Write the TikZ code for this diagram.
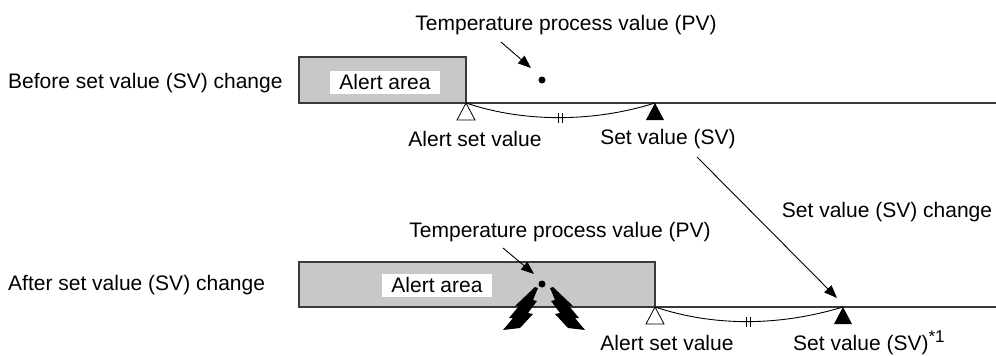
\documentclass[tikz,border=0pt]{standalone}
\usepackage{fontspec}
\setmainfont{Liberation Sans}
\usetikzlibrary{arrows.meta}
\definecolor{areagray}{HTML}{C8C8C8}
\definecolor{edgegray}{HTML}{3A3A3A}
\begin{document}
\begin{tikzpicture}[x=1pt,y=-1pt,
  lbl/.style={inner sep=0pt, font=\fontsize{21}{25}\selectfont},
  area/.style={fill=areagray, draw=edgegray, line width=1.2pt},
  whitebox/.style={fill=white, inner sep=0pt, minimum width=110pt, minimum height=23pt, font=\fontsize{21}{25}\selectfont},
  baseline/.style={draw=edgegray, line width=1.2pt},
  ptr/.style={draw=black, line width=0.9pt, -{Triangle[length=13pt,width=10pt]}},
  opentri/.style={draw=black, fill=white, line width=0.8pt},
  filltri/.style={fill=black},
  dist/.style={draw=black, line width=0.9pt},
  pv/.style={circle, fill=black, inner sep=0pt, minimum size=7pt},
  bolt/.style={fill=black}
]
\path[use as bounding box] (0,0) rectangle (996,356);

% ---------------- top row: before change ----------------
\node[lbl, anchor=west] (before) at (8,83) {Before set value (SV) change};
\draw[area] (299,103) rectangle (466,57);
\node[whitebox] (area1) at (385,82) {Alert area};
\coordinate (l1s) at (299,103);
\coordinate (l1e) at (996,103);
\draw[baseline] (l1s) -- (l1e);

\node[lbl] (pvlab1) at (566,25) {Temperature process value (PV)};
\node[pv] (pv1) at (542,80) {};
\coordinate (a1s) at (501,42);
\coordinate (a1e) at (531,68);
\draw[ptr] (a1s) -- (a1e);

\coordinate (asv1) at (466,103);
\coordinate (sv1) at (655,103);
\draw[opentri] (asv1) -- ++(9,17) -- ++(-18,0) -- cycle;
\fill[filltri] (sv1) -- ++(9,17) -- ++(-18,0) -- cycle;
\draw[dist] (asv1) .. controls (525,123) and (595,122) .. (sv1);
\draw[dist] (558,113) -- (558,123) (562,113) -- (562,123);

\node[lbl] (asvlab1) at (475,139) {Alert set value};
\node[lbl] (svlab1) at (668,139) {Set value (SV)};

% ---------------- change arrow ----------------
\coordinate (chs) at (697,157);
\coordinate (che) at (837,298);
\draw[ptr] (chs) -- (che);
\node[lbl] (chlab) at (887,212) {Set value (SV) change};

% ---------------- bottom row: after change ----------------
\node[lbl, anchor=west] (after) at (8,285) {After set value (SV) change};
\draw[area] (299,307) rectangle (655,262);
\node[whitebox] (area2) at (437,285) {Alert area};
\coordinate (l2s) at (299,307);
\coordinate (l2e) at (996,307);
\draw[baseline] (l2s) -- (l2e);

\node[lbl] (pvlab2) at (560,232) {Temperature process value (PV)};
\node[pv] (pv2) at (542,284) {};
\coordinate (a2s) at (503,248);
\coordinate (a2e) at (534,274);
\draw[ptr] (a2s) -- (a2e);

% lightning bolts
\fill[bolt] (538,288) -- (533,300) -- (537,301) -- (528,313) -- (533,314) -- (520,328)
  -- (503,330) -- (513,318) -- (509,318) -- (519,306) -- (515,306) -- (535,287) -- cycle;
\fill[bolt] (550,288) -- (555,300) -- (551,301) -- (560,313) -- (555,314) -- (568,328)
  -- (585,330) -- (575,318) -- (579,318) -- (569,306) -- (573,306) -- (553,287) -- cycle;

\coordinate (asv2) at (655,307);
\coordinate (sv2) at (843,307);
\draw[opentri] (asv2) -- ++(9,17) -- ++(-18,0) -- cycle;
\fill[filltri] (sv2) -- ++(9,17) -- ++(-18,0) -- cycle;
\draw[dist] (asv2) .. controls (715,327) and (780,326) .. (sv2);
\draw[dist] (746,317) -- (746,327) (750,317) -- (750,327);

\node[lbl, anchor=base] (asvlab2) at (667,350) {Alert set value};
\node[lbl, anchor=base west] (svlab2) at (793,350) {Set value (SV)\raisebox{8pt}{\fontsize{17}{17}\selectfont *1}};
\end{tikzpicture}
\end{document}
